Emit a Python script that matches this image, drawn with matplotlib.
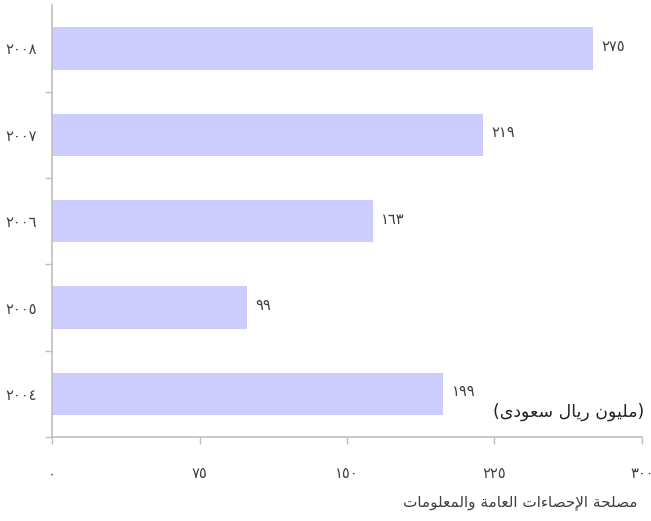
import numpy as np
import matplotlib
matplotlib.use("Agg")
import matplotlib.pyplot as plt
from matplotlib.ticker import FixedLocator

years = [2004, 2005, 2006, 2007, 2008]
values = [199, 99, 163, 219, 275]
x_ticks = [0, 75, 150, 225, 300]
unit_label = "(مليون ريال سعودى)"
source_label = "مصلحة الإحصاءات العامة والمعلومات"

BAR_COLOR = "#CCCCFF"
TEXT_COLOR = "#404040"
AXIS_COLOR = "#bfbfbf"

DIGITS = str.maketrans("0123456789", "٠١٢٣٤٥٦٧٨٩")

# presentation forms: (isolated, final, initial, medial); 2-tuples only join on the right
FORMS = {
    "ا": (0xFE8D, 0xFE8E), "إ": (0xFE87, 0xFE88), "ء": (0xFE80,),
    "ة": (0xFE93, 0xFE94), "د": (0xFEA9, 0xFEAA), "ر": (0xFEAD, 0xFEAE),
    "و": (0xFEED, 0xFEEE), "ى": (0xFEEF, 0xFEF0),
    "ت": (0xFE95, 0xFE96, 0xFE97, 0xFE98), "ح": (0xFEA1, 0xFEA2, 0xFEA3, 0xFEA4),
    "س": (0xFEB1, 0xFEB2, 0xFEB3, 0xFEB4), "ص": (0xFEB9, 0xFEBA, 0xFEBB, 0xFEBC),
    "ع": (0xFEC9, 0xFECA, 0xFECB, 0xFECC), "ل": (0xFEDD, 0xFEDE, 0xFEDF, 0xFEE0),
    "م": (0xFEE1, 0xFEE2, 0xFEE3, 0xFEE4), "ن": (0xFEE5, 0xFEE6, 0xFEE7, 0xFEE8),
    "ي": (0xFEF1, 0xFEF2, 0xFEF3, 0xFEF4),
}
LAM_ALEF = {"إ": (0xFEF9, 0xFEFA), "ا": (0xFEFB, 0xFEFC)}
MIRROR = {"(": ")", ")": "("}


def _dual(c):
    return c in FORMS and len(FORMS[c]) == 4


def _joins(c):
    return c in FORMS and len(FORMS[c]) >= 2


def shape(text):
    """Tiny Arabic shaper: contextual forms + lam-alef, then visual (reversed) order."""
    out, i = [], 0
    while i < len(text):
        c = text[i]
        prev = text[i - 1] if i > 0 else " "
        nxt = text[i + 1] if i + 1 < len(text) else " "
        if c not in FORMS:
            out.append(MIRROR.get(c, c)); i += 1
            continue
        pj = _dual(prev)
        if c == "ل" and nxt in LAM_ALEF:
            out.append(chr(LAM_ALEF[nxt][1 if pj else 0])); i += 2
            continue
        nj = _dual(c) and _joins(nxt)
        f = FORMS[c]
        if len(f) == 1:
            g = f[0]
        elif len(f) == 2:
            g = f[1] if pj else f[0]
        else:
            g = f[3] if (pj and nj) else f[1] if pj else f[2] if nj else f[0]
        out.append(chr(g)); i += 1
    return "".join(reversed(out))


plt.rcParams["font.family"] = ["DejaVu Sans"]

fig = plt.figure(figsize=(6.51, 5.21), dpi=100)
ax = fig.add_axes([0.080, 0.161, 0.906, 0.829])

y = np.arange(len(years))
ax.barh(y, values, height=0.49, color=BAR_COLOR, zorder=2)
for yi, v in zip(y, values):
    ax.annotate(str(v).translate(DIGITS), (v, yi), textcoords="offset points",
                xytext=(6, 1.5), ha="left", va="center", fontsize=10.5, color=TEXT_COLOR)

ax.set_xlim(0, 300)
ax.set_ylim(-0.5, len(years) - 0.5)
ax.set_xticks(x_ticks)
ax.set_xticklabels([str(t).translate(DIGITS) for t in x_ticks])
ax.set_yticks(y)
ax.set_yticklabels([str(t).translate(DIGITS) for t in years])
ax.yaxis.set_minor_locator(FixedLocator(np.arange(-0.5, len(years) - 0.5, 1.0)))

ax.tick_params(axis="x", length=5, width=1, color=AXIS_COLOR, pad=16,
               labelsize=10.5, labelcolor=TEXT_COLOR, direction="out")
ax.tick_params(axis="y", which="major", length=0, pad=11,
               labelsize=10.5, labelcolor=TEXT_COLOR)
ax.tick_params(axis="y", which="minor", length=5, width=1, color=AXIS_COLOR,
               direction="out")

for sp in ("top", "right"):
    ax.spines[sp].set_visible(False)
for sp in ("left", "bottom"):
    ax.spines[sp].set_color(AXIS_COLOR)
    ax.spines[sp].set_linewidth(1.2)

ax.text(1.004, 0.058, shape(unit_label), transform=ax.transAxes, ha="right",
        va="center", fontsize=12.5, color="#222222")
fig.text(0.980, 0.035, shape(source_label), ha="right", va="center",
         fontsize=11, color=TEXT_COLOR)

fig.savefig("out.png", dpi=100)
